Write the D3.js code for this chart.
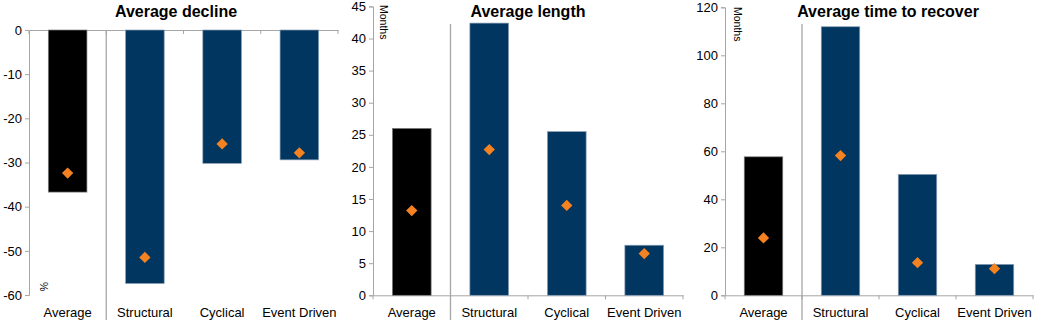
<!DOCTYPE html>
<html>
<head>
<meta charset="utf-8">
<script src="https://cdn.jsdelivr.net/npm/d3@7/dist/d3.min.js"></script>
<style>
  html, body { margin: 0; padding: 0; background: #fff; }
  svg { display: block; font-family: "Liberation Sans", Arial, sans-serif; }
</style>
</head>
<body>
<svg id="chart" width="1051" height="330"></svg>
<script>
// ---- data ----
const categories = ["Average", "Structural", "Cyclical", "Event Driven"];
const declineAvg = [-36.7, -57.4, -30.2, -29.4];
const declineMed = [-32.4, -51.5, -25.8, -27.8];
const lengthAvg = [26.0, 42.4, 25.5, 7.8];
const lengthMed = [13.2, 22.7, 14.0, 6.5];
const recoverAvg = [57.7, 111.9, 50.4, 12.9];
const recoverMed = [23.9, 58.2, 13.6, 11.1];
const declineTicks = [0, -10, -20, -30, -40, -50, -60];
const lengthTicks = [0, 5, 10, 15, 20, 25, 30, 35, 40, 45];
const recoverTicks = [0, 20, 40, 60, 80, 100, 120];

// ---- style ----
const NAVY = "#003660", BLACK = "#000000", ORANGE = "#F58220", AXIS = "#a6a6a6";

const panels = [
  { title: "Average decline", titleX: 176, x0: 29, x1: 338, yTop: 30, yBot: 295,
    domain: [0, -60], ticks: declineTicks, avg: declineAvg, med: declineMed,
    unit: "%", unitX: 40, unitY: 282, catAxisAtTop: true, sepTop: 30 },
  { title: "Average length", titleX: 528, x0: 373, x1: 683, yTop: 6.4, yBot: 295.3,
    domain: [45, 0], ticks: lengthTicks, avg: lengthAvg, med: lengthMed,
    unit: "Months", unitX: 380, unitY: 5, catAxisAtTop: false, sepTop: 24 },
  { title: "Average time to recover", titleX: 888, x0: 725, x1: 1033, yTop: 7.3, yBot: 295.3,
    domain: [120, 0], ticks: recoverTicks, avg: recoverAvg, med: recoverMed,
    unit: "Months", unitX: 734, unitY: 7, catAxisAtTop: false, sepTop: 24 }
];

const svg = d3.select("#chart");
const diamond = d3.symbol().type(d3.symbolSquare).size(64);

panels.forEach(p => {
  const g = svg.append("g");
  const x = d3.scaleBand().domain(categories).range([p.x0, p.x1]).padding(0);
  const y = d3.scaleLinear().domain(p.domain).range([p.yTop, p.yBot]);
  const bw = x.bandwidth() * 0.5;

  // y axis
  const yAxis = d3.axisLeft(y).tickValues(p.ticks).tickSize(4).tickPadding(3)
    .tickFormat(d => String(d));
  const ya = g.append("g").attr("transform", `translate(${p.x0},0)`).call(yAxis);
  ya.select(".domain").attr("stroke", AXIS);
  ya.selectAll(".tick line").attr("stroke", AXIS);
  ya.selectAll(".tick text").attr("fill", "#000").style("font-size", "13px")
    .style("font-family", "'Liberation Sans', Arial, sans-serif");

  // category axis line (at zero)
  const zeroY = y(0);
  const xAxis = (p.catAxisAtTop ? d3.axisTop(x) : d3.axisBottom(x));
  const xa = g.append("g").attr("transform", `translate(0,${zeroY})`)
    .call(xAxis.tickSize(0).tickFormat(""));
  xa.select(".domain").attr("stroke", AXIS);
  // boundary tick marks
  const bounds = categories.map(c => x(c)).concat([p.x1]);
  g.selectAll(".btick").data(bounds).enter().append("line")
    .attr("x1", d => d).attr("x2", d => d)
    .attr("y1", zeroY).attr("y2", zeroY + 4)
    .attr("stroke", AXIS);

  // separator between Average and the rest
  g.append("line")
    .attr("x1", x("Structural")).attr("x2", x("Structural"))
    .attr("y1", p.sepTop).attr("y2", 320)
    .attr("stroke", AXIS).attr("stroke-width", 1.3);

  // bars
  g.selectAll(".bar").data(categories).enter().append("rect")
    .attr("x", c => x(c) + (x.bandwidth() - bw) / 2)
    .attr("width", bw)
    .attr("y", (c, i) => Math.min(y(p.avg[i]), zeroY))
    .attr("height", (c, i) => Math.abs(y(p.avg[i]) - zeroY))
    .attr("fill", (c, i) => i === 0 ? BLACK : NAVY)
    .attr("stroke", (c, i) => i === 0 ? "#7f7f7f" : "#8da0b6")
    .attr("stroke-width", 0.7);

  // diamonds
  g.selectAll(".dia").data(categories).enter().append("path")
    .attr("d", diamond)
    .attr("transform", (c, i) => `translate(${x(c) + x.bandwidth() / 2},${y(p.med[i])}) rotate(45)`)
    .attr("fill", ORANGE);

  // category labels
  g.selectAll(".cat").data(categories).enter().append("text")
    .attr("x", c => x(c) + x.bandwidth() / 2)
    .attr("y", 317)
    .attr("text-anchor", "middle")
    .style("font-size", "13px")
    .text(c => c);

  // unit label (rotated)
  g.append("text")
    .attr("transform", `translate(${p.unitX},${p.unitY}) rotate(90)`)
    .style("font-size", "10.5px")
    .text(p.unit);

  // title
  g.append("text")
    .attr("x", p.titleX).attr("y", 17)
    .attr("text-anchor", "middle")
    .style("font-size", "16px").style("font-weight", "bold")
    .text(p.title);
});
</script>
</body>
</html>
